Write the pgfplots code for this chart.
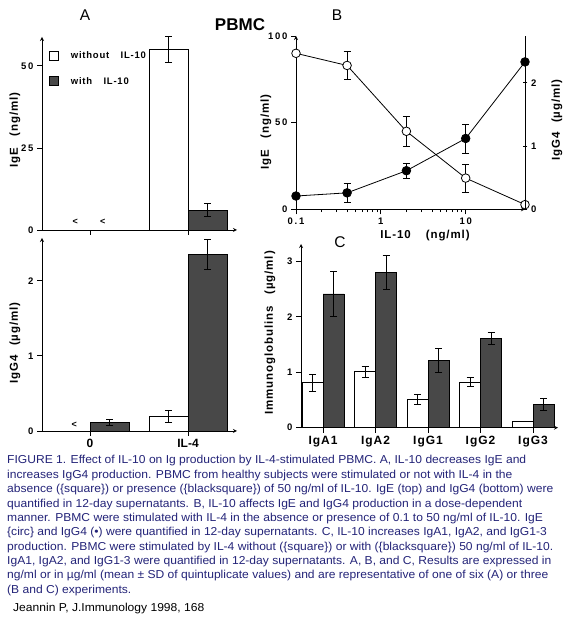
\documentclass[border=0pt]{standalone}
\usepackage{fontspec}
\setmainfont{Liberation Sans}
\newfontfamily\spaced{Liberation Sans}[LetterSpace=18]
\newfontfamily\lspaced{Liberation Sans}[LetterSpace=8]
\newfontfamily\capfont{Liberation Sans}[FakeStretch=1.05]
\usepackage{pgfplots}
\pgfplotsset{compat=1.18}
\definecolor{barDark}{RGB}{72,72,72}
\definecolor{capBlue}{RGB}{35,35,120}

\pgfplotsset{
  base/.style={
    scale only axis,
    axis x line=bottom, axis y line=left,
    every non boxed x axis/.append style={x axis line style={-}},
    every non boxed y axis/.append style={y axis line style={-}},
    axis line style={line width=0.8pt},
    tick align=outside,
    major tick length=5pt,
    tick style={line width=0.8pt, black},
    ticklabel style={font=\spaced\bfseries\fontsize{9.5}{11}\selectfont},
    /pgf/number format/assume math mode=true,
  },
  ebar/.style={error bars/y dir=both, error bars/y explicit,
    error bars/error bar style={line width=0.8pt, draw=black, solid},
    error bars/error mark options={rotate=90, mark size=3.5pt, line width=0.8pt, draw=black, solid}},
  sqlegend/.style={legend image code/.code={\draw[##1, line width=0.8pt] (0pt,-4.5pt) rectangle (9pt,4.5pt);}},
}

\begin{document}
\begin{tikzpicture}[x=1pt,y=1pt]
\useasboundingbox (0,0) rectangle (567,620);

% ---------------- Panel A top (IgE) ----------------
\begin{axis}[base, at={(42pt,390pt)}, anchor=south west, width=195pt, height=193pt,
  xmin=-0.49, xmax=1.5, ymin=0, ymax=58.8,
  xtick={0,1}, xticklabels={}, ytick={0,25,50}, yticklabels={0,25,50},
  ybar, bar width=39pt,
  legend style={at={(0.02,0.945)}, anchor=north west, draw=none, fill=none,
    font=\lspaced\bfseries\fontsize{9.5}{11}\selectfont, row sep=13pt,
    /tikz/every odd column/.append style={column sep=10pt}},
  legend cell align=left]
\addplot[fill=white, draw=black, line width=0.8pt, bar shift=-19.5pt, ebar, sqlegend]
  coordinates {(1,55) +- (0,4)};
\addplot[fill=barDark, draw=black, line width=0.8pt, bar shift=19.5pt, ebar, sqlegend]
  coordinates {(1,6) +- (0,2)};
\legend{without\hspace{1.2em}IL-10, with\hspace{1.2em}IL-10}
\node[font=\bfseries\fontsize{9}{10}\selectfont] at (axis cs:-0.15,2.4) {<};
\node[font=\bfseries\fontsize{9}{10}\selectfont] at (axis cs:0.13,2.4) {<};
\end{axis}

% ---------------- Panel A bottom (IgG4) ----------------
\begin{axis}[base, at={(42pt,189pt)}, anchor=south west, width=195pt, height=193pt,
  xmin=-0.49, xmax=1.5, ymin=0, ymax=2.57,
  xtick={0,1}, xticklabels={0,IL-4}, ytick={0,1,2}, yticklabels={0,1,2},
  xticklabel style={font=\bfseries\fontsize{12}{13}\selectfont},
  ybar, bar width=39pt]
\addplot[fill=white, draw=black, line width=0.8pt, bar shift=-19.5pt, ebar]
  coordinates {(1,0.2) +- (0,0.08)};
\addplot[fill=barDark, draw=black, line width=0.8pt, bar shift=19.5pt, ebar]
  coordinates {(0,0.11) +- (0,0.04) (1,2.35) +- (0,0.2)};
\node[font=\bfseries\fontsize{9}{10}\selectfont] at (axis cs:-0.16,0.08) {<};
\end{axis}

% ---------------- Panel B (dose response) ----------------
\begin{axis}[base, at={(296pt,410.7pt)}, anchor=south west, width=229pt, height=173.3pt,
  xmode=log, xmin=0.1, xmax=50, ymin=0, ymax=100,
  xtick={0.1,1,10}, xticklabels={0.1,1,10}, minor xtick={},
  ytick={0,50,100}, yticklabels={0,50,100}]
\addplot[forget plot, draw=none, mark=none, ebar]
  coordinates {(0.4,83) +- (0,8) (2,45) +- (0,8.8) (10,18) +- (0,8)};
\addplot[black, line width=0.8pt, mark=*, mark size=4.3pt,
  mark options={fill=white, draw=black, line width=0.8pt}]
  coordinates {(0.1,90) (0.4,83) (2,45) (10,18) (50,2.7)};
\end{axis}
\begin{axis}[base, at={(296pt,410.7pt)}, anchor=south west, width=229pt, height=173.3pt,
  xmode=log, xmin=0.1, xmax=50, ymin=0, ymax=2.74,
  axis x line=none, axis y line=right,
  ytick={0,1,2}, yticklabels={0,1,2}]
\addplot[forget plot, draw=none, mark=none, ebar]
  coordinates {(0.4,0.26) +- (0,0.15) (2,0.61) +- (0,0.12) (10,1.12) +- (0,0.23)};
\addplot[black, line width=0.8pt, mark=*, mark size=4.3pt,
  mark options={fill=black, draw=black}]
  coordinates {(0.1,0.21) (0.4,0.26) (2,0.61) (10,1.12) (50,2.33)};
\end{axis}

% ---------------- Panel C (isotypes) ----------------
\begin{axis}[base, at={(301pt,192.3pt)}, anchor=south west, width=257pt, height=183.7pt,
  xmin=-0.419, xmax=4.476, ymin=0, ymax=3.31,
  xtick={0,1,2,3,4}, xticklabels={IgA1,IgA2,IgG1,IgG2,IgG3},
  xticklabel style={font=\lspaced\bfseries\fontsize{12}{14}\selectfont},
  ytick={0,1,2,3}, yticklabels={0,1,2,3},
  ybar, bar width=21pt]
\addplot[fill=white, draw=black, line width=0.8pt, bar shift=-10.5pt, ebar]
  coordinates {(0,0.81) +- (0,0.15) (1,1.01) +- (0,0.1) (2,0.51) +- (0,0.09) (3,0.82) +- (0,0.08)};
\addplot[fill=white, draw=black, line width=0.8pt, bar shift=-10.5pt]
  coordinates {(4,0.11)};
\addplot[fill=barDark, draw=black, line width=0.8pt, bar shift=10.5pt, ebar]
  coordinates {(0,2.41) +- (0,0.4) (1,2.8) +- (0,0.3) (2,1.21) +- (0,0.21) (3,1.61) +- (0,0.11) (4,0.42) +- (0,0.1)};
\end{axis}

% ---------------- Titles and axis labels ----------------
\node[font=\fontsize{15.5}{17}\selectfont] at (85,605) {A};
\node[font=\bfseries\fontsize{17}{19}\selectfont] at (240,595) {PBMC};
\node[font=\fontsize{15.5}{17}\selectfont] at (337,605) {B};
\node[font=\fontsize{15.5}{17}\selectfont] at (340,378) {C};

\node[rotate=90, font=\lspaced\bfseries\fontsize{11.5}{13}\selectfont] at (15,490) {IgE\hspace{1em}(ng/ml)};
\node[rotate=90, font=\lspaced\bfseries\fontsize{11.5}{13}\selectfont] at (15,277) {IgG4\hspace{0.8em}(µg/ml)};
\node[rotate=90, font=\lspaced\bfseries\fontsize{11.5}{13}\selectfont] at (266,488) {IgE\hspace{1em}(ng/ml)};
\node[rotate=90, font=\lspaced\bfseries\fontsize{11.5}{13}\selectfont] at (557,500) {IgG4\hspace{0.8em}(µg/ml)};
\node[rotate=90, font=\lspaced\bfseries\fontsize{11.5}{13}\selectfont] at (270,287) {Immunoglobulins\hspace{1em}(µg/ml)};
\node[font=\lspaced\bfseries\fontsize{11.5}{13}\selectfont] at (425,384) {IL-10\hspace{1.3em}(ng/ml)};

% ---------------- Caption ----------------
\begin{scope}[every node/.style={anchor=base west, inner sep=0pt, text=capBlue, font=\capfont\fontsize{11.5}{13}\selectfont}]
\node at (7,156) {FIGURE 1. Effect of IL-10 on Ig production by IL-4-stimulated PBMC. A, IL-10 decreases IgE and};
\node at (7,141.65) {increases IgG4 production. PBMC from healthy subjects were stimulated or not with IL-4 in the};
\node at (7,127.3) {absence (\{square\}) or presence (\{blacksquare\}) of 50 ng/ml of IL-10. IgE (top) and IgG4 (bottom) were};
\node at (7,112.95) {quantified in 12-day supernatants. B, IL-10 affects IgE and IgG4 production in a dose-dependent};
\node at (7,98.6) {manner. PBMC were stimulated with IL-4 in the absence or presence of 0.1 to 50 ng/ml of IL-10. IgE};
\node at (7,84.25) {\{circ\} and IgG4 (•) were quantified in 12-day supernatants. C, IL-10 increases IgA1, IgA2, and IgG1-3};
\node at (7,69.9) {production. PBMC were stimulated by IL-4 without (\{square\}) or with (\{blacksquare\}) 50 ng/ml of IL-10.};
\node at (7,55.55) {IgA1, IgA2, and IgG1-3 were quantified in 12-day supernatants. A, B, and C, Results are expressed in};
\node at (7,41.2) {ng/ml or in µg/ml (mean ± SD of quintuplicate values) and are representative of one of six (A) or three};
\node at (7,26.85) {(B and C) experiments.};
\node[text=black] at (13,9) {Jeannin P, J.Immunology 1998, 168};
\end{scope}
\end{tikzpicture}
\end{document}
